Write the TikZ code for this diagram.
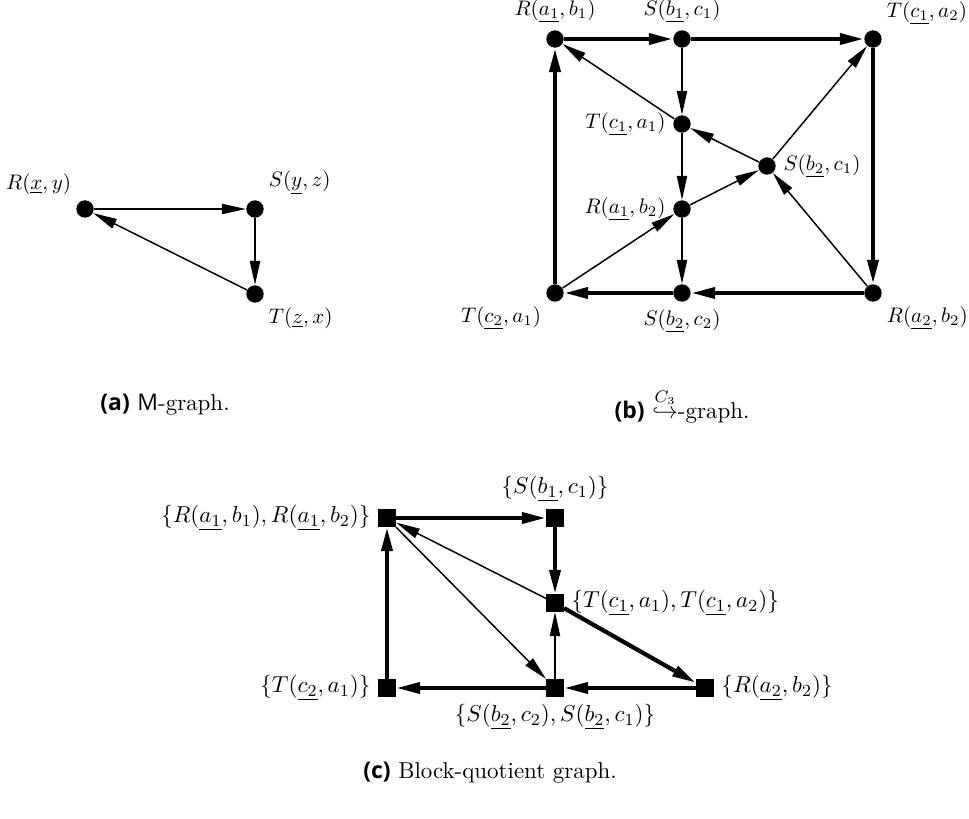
\documentclass[tikz,border=0pt]{standalone}
\usepackage{fontspec}
\newfontfamily\capfont{Open Sans}
\usetikzlibrary{arrows.meta, positioning}
\tikzset{
  % vertice (cerchio pieno)
  vtx/.style={circle, fill=black, inner sep=0pt, minimum size=0.29cm},
  % blocco del grafo quoziente
  blk/.style={rectangle, fill=black, inner sep=0pt, minimum size=0.29cm},
  % archi
  thinarc/.style={-{Triangle[length=4mm, width=1.7mm]}, line width=0.7pt},
  thickarc/.style={-{Triangle[length=4mm, width=1.8mm]}, line width=2pt},
  % etichette
  lbl/.style={font=\normalsize},
  qlbl/.style={font=\fontsize{10.9}{13}\selectfont},
  caplbl/.style={font=\fontsize{10.9}{13}\selectfont, anchor=base},
}
\begin{document}
\begin{tikzpicture}[x=0.0167cm, y=-0.0167cm]
  \useasboundingbox (0,0) rectangle (969,819);
  % (a) M-graph
  \node[vtx, label={[lbl]above left:$R(\underline{x},y)$}] (ra) at (85,209) {};
  \node[vtx, label={[lbl]above right:$S(\underline{y},z)$}] (sa) at (255,209) {};
  \node[vtx, label={[lbl]below right:$T(\underline{z},x)$}] (ta) at (255,294) {};
  \draw[thinarc] (ra) -- (sa);
  \draw[thinarc] (sa) -- (ta);
  \draw[thinarc] (ta) -- (ra);
  \node[caplbl] (capa) at (165,410) {{\capfont\bfseries (a)}\ {\capfont M}-graph.};
  % (b) grafo
  \node[vtx, label={[lbl]above:$R(\underline{a_1},b_1)$}] (r11) at (555,39) {};
  \node[vtx, label={[lbl]above:$S(\underline{b_1},c_1)$}] (s11) at (682,39) {};
  \node[vtx, label={[lbl]above right:$T(\underline{c_1},a_2)$}] (t12) at (873,39) {};
  \node[vtx, label={[lbl]left:$T(\underline{c_1},a_1)$}] (t11) at (682,124) {};
  \node[vtx, label={[lbl]right:$S(\underline{b_2},c_1)$}] (s21) at (767,166) {};
  \node[vtx, label={[lbl]left:$R(\underline{a_1},b_2)$}] (r12) at (682,209) {};
  \node[vtx, label={[lbl]below left:$T(\underline{c_2},a_1)$}] (t21) at (555,293) {};
  \node[vtx, label={[lbl]below:$S(\underline{b_2},c_2)$}] (s22) at (682,293) {};
  \node[vtx, label={[lbl]below right:$R(\underline{a_2},b_2)$}] (r22) at (873,293) {};
  \draw[thickarc] (r11) -- (s11);
  \draw[thickarc] (s11) -- (t12);
  \draw[thickarc] (t12) -- (r22);
  \draw[thickarc] (r22) -- (s22);
  \draw[thickarc] (s22) -- (t21);
  \draw[thickarc] (t21) -- (r11);
  \draw[thinarc] (s11) -- (t11);
  \draw[thinarc] (t11) -- (r11);
  \draw[thinarc] (t11) -- (r12);
  \draw[thinarc] (r12) -- (s22);
  \draw[thinarc] (t21) -- (r12);
  \draw[thinarc] (r12) -- (s21);
  \draw[thinarc] (s21) -- (t11);
  \draw[thinarc] (s21) -- (t12);
  \draw[thinarc] (r22) -- (s21);
  \node[caplbl] (capb) at (682,418) {{\capfont\bfseries (b)}\ $\stackrel{C_3}{\hookrightarrow}$-graph.};
  % (c) grafo quoziente
  \node[blk, label={[qlbl]left:$\{R(\underline{a_1},b_1),R(\underline{a_1},b_2)\}$}] (qr1) at (387,518) {};
  \node[blk, label={[qlbl]above:$\{S(\underline{b_1},c_1)\}$}] (qs1) at (555,518) {};
  \node[blk, label={[qlbl]right:$\{T(\underline{c_1},a_1),T(\underline{c_1},a_2)\}$}] (qt1) at (555,603) {};
  \node[blk, label={[qlbl]left:$\{T(\underline{c_2},a_1)\}$}] (qt2) at (387,688) {};
  \node[blk, label={[qlbl]below:$\{S(\underline{b_2},c_2),S(\underline{b_2},c_1)\}$}] (qs2) at (555,688) {};
  \node[blk, label={[qlbl]right:$\{R(\underline{a_2},b_2)\}$}] (qr2) at (705,688) {};
  \draw[thickarc] (qr1) -- (qs1);
  \draw[thickarc] (qs1) -- (qt1);
  \draw[thickarc] (qt1) -- (qr2);
  \draw[thickarc] (qr2) -- (qs2);
  \draw[thickarc] (qs2) -- (qt2);
  \draw[thickarc] (qt2) -- (qr1);
  \draw[thinarc] (qt1) -- (qr1);
  \draw[thinarc] (qr1) -- (qs2);
  \draw[thinarc] (qs2) -- (qt1);
  \node[caplbl] (capc) at (490,778) {{\capfont\bfseries (c)}\ Block-quotient graph.};
\end{tikzpicture}
\end{document}
